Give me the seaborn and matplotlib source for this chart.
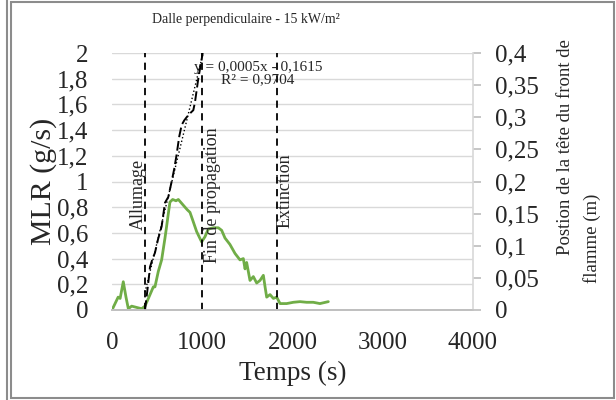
import numpy as np
import pandas as pd
import matplotlib.pyplot as plt
import seaborn as sns
from matplotlib.patches import Rectangle
from matplotlib.lines import Line2D

# MLR (g/s) vs time (s)
t_mlr = [0, 68, 90, 125, 155, 181, 218, 273, 329, 365, 403, 458, 476, 513, 550, 587, 605,
         624, 642, 672, 709, 735, 772, 809, 834, 864, 894, 938, 993, 1030, 1067, 1123, 1178,
         1215, 1252, 1307, 1363, 1418, 1455, 1474, 1492, 1529, 1566, 1603, 1640, 1677, 1696,
         1714, 1751, 1788, 1825, 1862, 1935, 2009, 2083, 2157, 2230, 2304, 2397]
mlr = [0.0, 0.10, 0.09, 0.22, 0.10, 0.01, 0.03, 0.02, 0.01, 0.03, 0.09, 0.18, 0.18, 0.30,
       0.39, 0.56, 0.65, 0.75, 0.84, 0.86, 0.85, 0.86, 0.83, 0.80, 0.78, 0.76, 0.70, 0.61,
       0.53, 0.57, 0.63, 0.64, 0.64, 0.62, 0.56, 0.51, 0.44, 0.39, 0.40, 0.32, 0.37, 0.23,
       0.26, 0.21, 0.23, 0.27, 0.18, 0.10, 0.12, 0.09, 0.10, 0.05, 0.05, 0.06, 0.065, 0.06,
       0.06, 0.05, 0.065]

# flame front position (m) vs time (s)
t_front = [366, 400, 421, 450, 476, 510, 550, 587, 624, 661, 690, 715, 745, 772, 800, 827,
           864, 901, 920, 956, 993, 1005]
front = [0.0, 0.04, 0.067, 0.08, 0.089, 0.11, 0.13, 0.167, 0.176, 0.20, 0.22, 0.241, 0.27,
         0.288, 0.295, 0.30, 0.306, 0.311, 0.324, 0.36, 0.39, 0.40]

events = {'Allumage': 366, 'Fin de propagation': 994, 'Extinction': 1828}
x_ticks = [0, 1000, 2000, 3000, 4000]
left_ticks = [0, 0.2, 0.4, 0.6, 0.8, 1, 1.2, 1.4, 1.6, 1.8, 2]
right_ticks = [0, 0.05, 0.1, 0.15, 0.2, 0.25, 0.3, 0.35, 0.4]

sns.set_theme(style="whitegrid")
plt.rcParams['font.family'] = ['Liberation Serif', 'DejaVu Serif']


def fr(v):
    return ('%g' % v).replace('.', ',')


fig = plt.figure(figsize=(6.16, 4.0), dpi=100)
ax = fig.add_axes([112 / 616, 1 - 310 / 400, (473 - 112) / 616, (310 - 53) / 400])
ax2 = ax.twinx()

df_mlr = pd.DataFrame({'t': t_mlr, 'mlr': mlr})
df_front = pd.DataFrame({'t': t_front, 'pos': front})

sns.lineplot(data=df_mlr, x='t', y='mlr', ax=ax, color='#70AD47', linewidth=2)
sns.lineplot(data=df_front, x='t', y='pos', ax=ax2, color='black', linewidth=1.4,
             linestyle=(0, (5, 2)))
sns.regplot(data=df_front, x='t', y='pos', ax=ax2, scatter=False, ci=None, color='black',
            line_kws={'linestyle': ':', 'linewidth': 1})

for name, tv in events.items():
    ax.axvline(tv, color='black', linestyle=(0, (4, 3)), linewidth=1.3)

ax.text(366 - 70, 0.9, 'Allumage', rotation=90, ha='center', va='center', fontsize=13)
ax.text(994 + 125, 0.89, 'Fin de propagation', rotation=90, ha='center', va='center', fontsize=13)
ax.text(1828 + 90, 0.93, 'Extinction', rotation=90, ha='center', va='center', fontsize=13)
ax.text(1618, 1.84, 'y = 0,0005x - 0,1615\nR² = 0,9704', ha='center', va='center',
        fontsize=11, linespacing=0.95)

ax.set_xlim(0, 4000)
ax.set_ylim(0, 2)
ax2.set_ylim(0, 0.4)
ax.set_xticks(x_ticks)
ax.set_xticklabels([str(v) for v in x_ticks], fontsize=18)
ax.set_yticks(left_ticks)
ax.set_yticklabels([fr(v) for v in left_ticks], fontsize=18)
ax2.set_yticks(right_ticks)
ax2.set_yticklabels([fr(v) for v in right_ticks], fontsize=18)
ax2.grid(False)
ax.grid(axis='x', visible=False)
ax.grid(axis='y', color='#d9d9d9', linewidth=1)
ax.tick_params(axis='x', length=0, pad=16)
ax.tick_params(axis='y', length=0, pad=17)
ax2.tick_params(axis='y', length=6, color='#bfbfbf', pad=10, direction='out', right=True)

for a in (ax, ax2):
    for s in ('top', 'left'):
        a.spines[s].set_visible(False)
    a.spines['bottom'].set_color('#bfbfbf')
    a.spines['right'].set_color('#d9d9d9')
ax.spines['right'].set_visible(False)

ax.set_xlabel('Temps (s)', fontsize=19.5, labelpad=5)
ax.set_ylabel('MLR (g/s)', fontsize=21.5, labelpad=0)
ax2.set_ylabel('')

# right axis title: two lines placed separately as in the original
fig.text(565 / 616, 1 - 147 / 400, 'Postion de la tête du front de', rotation=90,
         ha='center', va='center', fontsize=13.5)
fig.text(592 / 616, 1 - 238 / 400, 'flamme (m)', rotation=90,
         ha='center', va='center', fontsize=13.5)

fig.text(246 / 616, 1 - 20 / 400, 'Dalle perpendiculaire - 15 kW/m²', ha='center',
         va='center', fontsize=10)

fig.patches.append(Rectangle((11 / 616, 2 / 400), 603 / 616, 396 / 400, transform=fig.transFigure,
                             fill=False, edgecolor='#8c8c8c', linewidth=1.5))
fig.lines.append(Line2D([7 / 616, 7 / 616], [0, 1], transform=fig.transFigure,
                        color='#8c8c8c', linewidth=1.5))

fig.savefig('out.png', dpi=100)
